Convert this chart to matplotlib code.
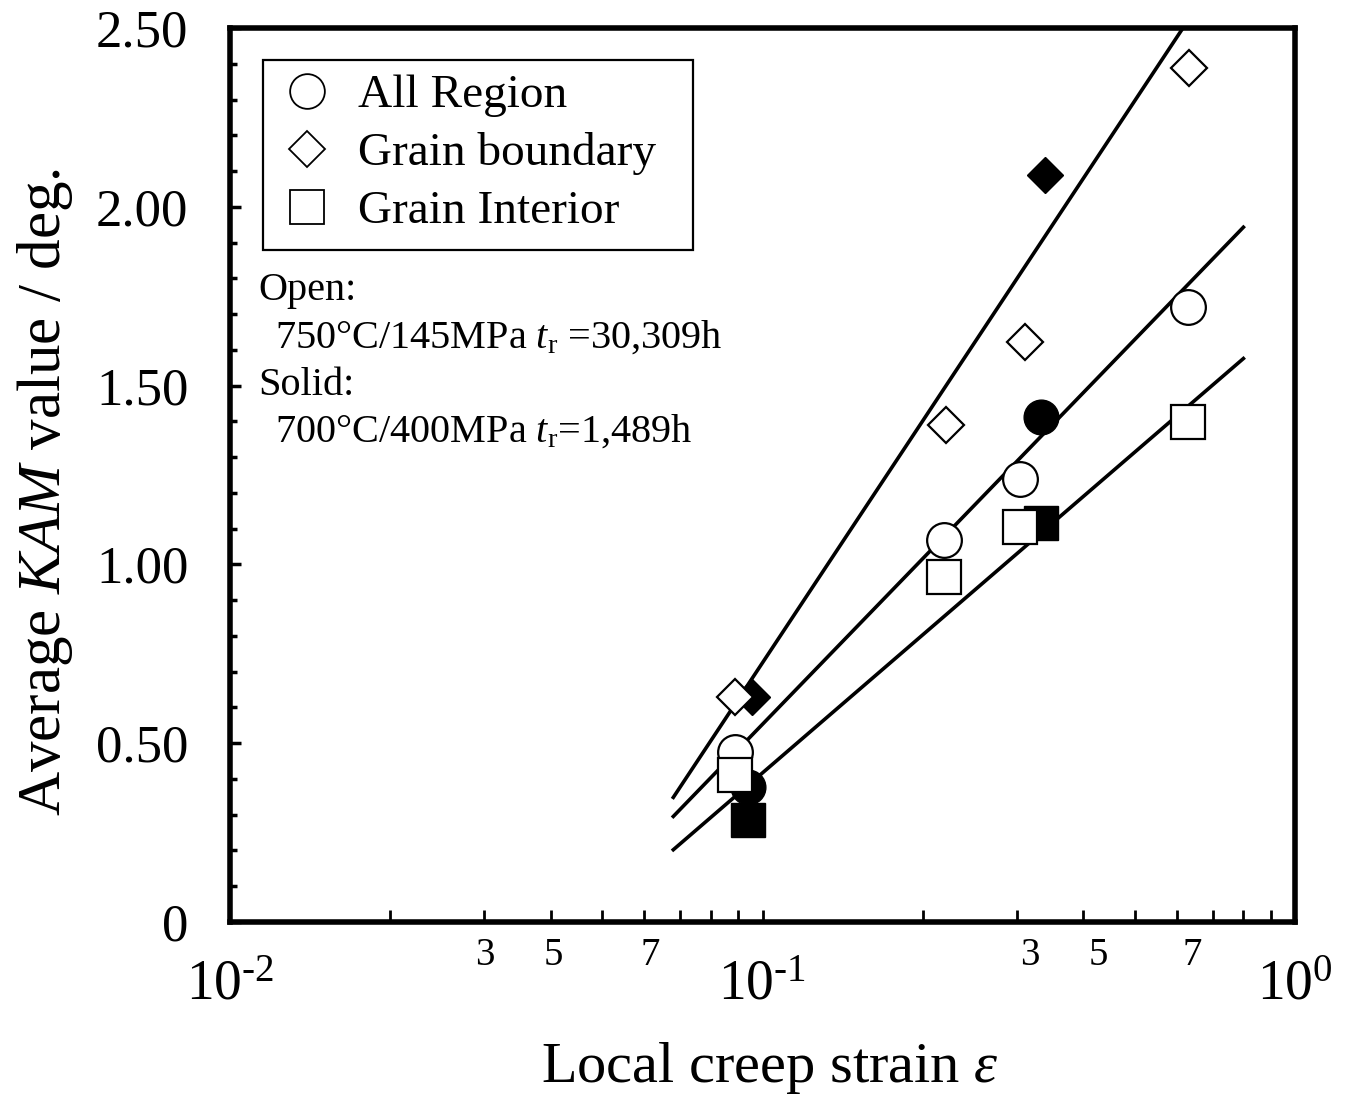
import numpy as np
import matplotlib.pyplot as plt
from matplotlib.lines import Line2D
from matplotlib.patches import Rectangle
from matplotlib.ticker import FixedLocator, LogLocator, MultipleLocator, NullFormatter

plt.rcParams['font.family'] = ['Liberation Serif', 'DejaVu Serif']
plt.rcParams['mathtext.fontset'] = 'custom'
plt.rcParams['mathtext.rm'] = 'Liberation Serif'
plt.rcParams['mathtext.it'] = 'Liberation Serif:italic'

# open symbols: 750C/145MPa
open_x = [0.0887, 0.219, 0.304, 0.630]
open_gb_x = [0.0887, 0.221, 0.311, 0.633]
open_all = [0.475, 1.068, 1.239, 1.720]
open_gb = [0.629, 1.390, 1.622, 2.388]
open_gi = [0.411, 0.965, 1.105, 1.398]

# solid symbols: 700C/400MPa
solid_x = [0.094, 0.334]
solid_gb_x = [0.0955, 0.339]
solid_all = [0.378, 1.412]
solid_gb = [0.629, 2.089]
solid_gi = [0.285, 1.116]

# fitted lines y = a + b*log10(x)  (GB, All, GI)
fit_a = [2.973, 2.092, 1.700]
fit_b = [2.248, 1.539, 1.283]
fit_range = (0.068, 0.80)

yticks = [0, 0.5, 1.0, 1.5, 2.0, 2.5]
ytick_labels = ['0', '0.50', '1.00', '1.50', '2.00', '2.50']
xticks = [0.01, 0.1, 1]
xtick_labels = ['10$^{\\text{-2}}$', '10$^{\\text{-1}}$', '10$^{0}$']
minor_lab_x = [0.0301, 0.0405, 0.0615, 0.318, 0.427, 0.641]
minor_lab = ['3', '5', '7', '3', '5', '7']

W, H = 1348, 1103
fig = plt.figure(figsize=(W/100, H/100), dpi=100)
ax = fig.add_axes([230/W, 1-922/H, 1065/W, 894/H])

def axpos(px, py):
    return ax.transAxes.inverted().transform(fig.transFigure.transform((px/W, 1-py/H)))

xf = np.logspace(np.log10(fit_range[0]), np.log10(fit_range[1]), 50)
for a, b in zip(fit_a, fit_b):
    ax.plot(xf, a + b*np.log10(xf), color='k', lw=2.6, zorder=2)

ms = 25
mew = 1.6
ax.plot(solid_x, solid_gi, 's', ms=ms, color='k', zorder=3)
ax.plot(solid_x, solid_all, 'o', ms=ms, color='k', zorder=3)
ax.plot(solid_gb_x, solid_gb, 'D', ms=18, color='k', zorder=3)
ax.plot(open_x, open_all, 'o', ms=ms, mfc='w', mec='k', mew=mew, zorder=4)
ax.plot(open_gb_x, open_gb, 'D', ms=18, mfc='w', mec='k', mew=mew, zorder=4)
ax.plot(open_x, open_gi, 's', ms=ms, mfc='w', mec='k', mew=mew, zorder=5)

ax.set_xscale('log')
ax.set_xlim(0.01, 1)
ax.set_ylim(0, 2.5)

ax.xaxis.set_major_locator(FixedLocator(xticks))
ax.set_xticklabels(xtick_labels)
ax.xaxis.set_minor_locator(LogLocator(base=10, subs=np.arange(2, 10)))
ax.xaxis.set_minor_formatter(NullFormatter())
ax.set_yticks(yticks)
ax.set_yticklabels(ytick_labels)
ax.yaxis.set_minor_locator(MultipleLocator(0.1))

ax.tick_params(axis='x', which='both', direction='in', length=9, width=2,
               top=False, labelsize=40, pad=27)
ax.tick_params(axis='y', which='major', direction='in', length=8, width=2.5,
               right=False, labelsize=38, pad=30)
ax.tick_params(axis='y', which='minor', direction='in', length=5, width=2.5,
               right=False)
for s in ax.spines.values():
    s.set_linewidth(4)

for xv, t in zip(minor_lab_x, minor_lab):
    ax.text(xv, -0.037, t, transform=ax.get_xaxis_transform(),
            ha='center', va='center', fontsize=28)

# legend box
x0, y0 = axpos(263, 250)
x1, y1 = axpos(693, 60)
ax.add_patch(Rectangle((x0, y0), x1-x0, y1-y0, transform=ax.transAxes,
                       fill=True, fc='w', ec='k', lw=1.6, zorder=6))
handles = [
    Line2D([], [], ls='none', marker='o', ms=25, mfc='w', mec='k', mew=1.3),
    Line2D([], [], ls='none', marker='D', ms=18, mfc='w', mec='k', mew=1.3),
    Line2D([], [], ls='none', marker='s', ms=25, mfc='w', mec='k', mew=1.3),
]
leg = ax.legend(handles, ['All Region', 'Grain boundary', 'Grain Interior'],
                loc='upper left', bbox_to_anchor=axpos(283, 74), fontsize=34,
                frameon=False, borderaxespad=0, borderpad=0, labelspacing=0.32,
                handlelength=1.0, handletextpad=0.58)
leg.set_zorder(7)

for (px, py), s in zip([(258, 300), (275, 348), (258, 395), (275, 442)],
                       ['Open:', '750\u00b0C/145MPa $t_{\\rm r}$ =30,309h',
                        'Solid:', '700\u00b0C/400MPa $t_{\\rm r}$=1,489h']):
    tx, ty = axpos(px, py)
    ax.text(tx, ty, s, transform=ax.transAxes, fontsize=29, va='baseline', ha='left')

fig.text(770/W, 1-1068/H, 'Local creep strain $\\varepsilon$',
         ha='center', va='center', fontsize=42)
fig.text(45/W, 1-492/H, 'Average $KAM$ value / deg.',
         ha='center', va='center', rotation=90, fontsize=44)

fig.savefig('out.png', dpi=100)
